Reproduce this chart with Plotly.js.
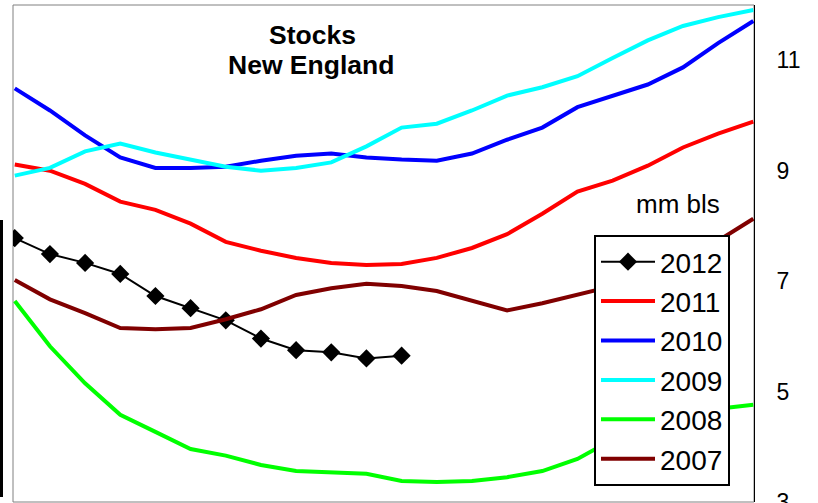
<!DOCTYPE html>
<html>
<head>
<meta charset="utf-8">
<script src="https://cdn.plot.ly/plotly-3.0.1.min.js"></script>
<style>
  html, body { margin: 0; padding: 0; background: #ffffff; }
  #chart { width: 818px; height: 503px; }
</style>
</head>
<body>
<div id="chart"></div>
<script>
// Periods (x positions, no labels shown on the axis)
const periods = [1,2,3,4,5,6,7,8,9,10,11,12,13,14,15,16,17,18,19,20,21,22];

// Series values (mm bls)
const s2012 = [7.78, 7.49, 7.33, 7.13, 6.73, 6.51, 6.29, 5.96, 5.75, 5.71, 5.60, 5.65];
const s2011 = [9.11, 9.00, 8.76, 8.44, 8.29, 8.04, 7.71, 7.55, 7.42, 7.33, 7.29, 7.31, 7.42, 7.60, 7.85, 8.22, 8.62, 8.82, 9.09, 9.42, 9.67, 9.89];
const s2010 = [10.49, 10.09, 9.64, 9.24, 9.05, 9.05, 9.07, 9.18, 9.27, 9.31, 9.24, 9.20, 9.18, 9.31, 9.56, 9.78, 10.15, 10.36, 10.56, 10.87, 11.31, 11.71];
const s2009 = [8.91, 9.05, 9.35, 9.49, 9.33, 9.20, 9.07, 9.00, 9.05, 9.15, 9.44, 9.78, 9.85, 10.09, 10.36, 10.51, 10.71, 11.04, 11.36, 11.62, 11.78, 11.91];
const s2008 = [6.64, 5.82, 5.15, 4.58, 4.27, 3.96, 3.84, 3.67, 3.56, 3.53, 3.51, 3.38, 3.36, 3.38, 3.45, 3.56, 3.78, 4.13, 4.42, 4.60, 4.69, 4.76];
const s2007 = [7.02, 6.67, 6.42, 6.15, 6.13, 6.15, 6.31, 6.49, 6.75, 6.87, 6.95, 6.91, 6.82, 6.64, 6.47, 6.60, 6.75, 6.91, 7.15, 7.40, 7.73, 8.13];

const yTicks = [3, 5, 7, 9, 11];
const yTickLabels = ['3', '5', '7', '9', '11'];

const FONT = 'Arial, "Liberation Sans", sans-serif';

// plot area in pixels: x 13..754, y 5..502
const PL = 13, PR = 754, PT = 5, PB = 502;
const px2x = p => (p - PL) / (PR - PL);
const px2y = p => (PB - p) / (PB - PT);

function line(name, ys, color) {
  return {
    type: 'scatter', mode: 'lines', name: name,
    x: periods.slice(0, ys.length), y: ys,
    line: { color: color, width: 4 },
    hoverinfo: 'skip'
  };
}

const traces = [
  {
    type: 'scatter', mode: 'lines+markers', name: '2012',
    x: periods.slice(0, s2012.length), y: s2012,
    line: { color: '#000000', width: 2 },
    marker: { symbol: 'diamond', size: 14, color: '#000000' },
    hoverinfo: 'skip'
  },
  line('2011', s2011, '#FF0000'),
  line('2010', s2010, '#0000FF'),
  line('2009', s2009, '#00FFFF'),
  line('2008', s2008, '#00FF00'),
  line('2007', s2007, '#800000')
];

const layout = {
  width: 818, height: 503,
  margin: { l: PL, r: 818 - PR, t: PT, b: 503 - PB, pad: 0, autoexpand: false },
  paper_bgcolor: '#ffffff', plot_bgcolor: '#ffffff',
  font: { family: FONT, color: '#000000' },
  showlegend: true,
  xaxis: {
    range: [0.95, 22.02], automargin: false,
    showgrid: false, zeroline: false, showticklabels: false, ticks: '',
    showline: false, fixedrange: true
  },
  yaxis: {
    side: 'right', automargin: false,
    range: [3, 12],
    tickvals: yTicks, ticktext: yTickLabels,
    tickfont: { family: FONT, size: 23, color: '#000000' },
    ticks: '', ticklabelstandoff: 17, ticklabeloverflow: 'allow',
    showgrid: false, zeroline: false,
    showline: true, linecolor: '#000000', linewidth: 1,
    fixedrange: true
  },
  legend: {
    x: px2x(594), y: px2y(235),
    xanchor: 'left', yanchor: 'top',
    bgcolor: '#ffffff', bordercolor: '#000000', borderwidth: 2,
    font: { family: FONT, size: 28, color: '#000000' },
    traceorder: 'normal',
    itemwidth: 54
  },
  shapes: [
    { type: 'rect', xref: 'paper', yref: 'paper', x0: 0, x1: 1, y0: 0, y1: 1,
      line: { color: '#808080', width: 1 }, layer: 'below' },
    { type: 'rect', xref: 'paper', yref: 'paper',
      x0: px2x(0), x1: px2x(3),
      y0: px2y(497), y1: px2y(220),
      fillcolor: '#000000', line: { width: 0 } }
  ],
  annotations: [
    { text: '<b>Stocks</b>', xref: 'paper', yref: 'paper',
      x: px2x(312), y: px2y(35), xanchor: 'center', yanchor: 'middle', showarrow: false,
      font: { family: FONT, size: 26.5, color: '#000000' } },
    { text: '<b>New England</b>', xref: 'paper', yref: 'paper',
      x: px2x(311), y: px2y(65), xanchor: 'center', yanchor: 'middle', showarrow: false,
      font: { family: FONT, size: 26.5, color: '#000000' } },
    { text: 'mm bls', xref: 'paper', yref: 'paper',
      x: px2x(678), y: px2y(204), xanchor: 'center', yanchor: 'middle', showarrow: false,
      font: { family: FONT, size: 26, color: '#000000' } }
  ]
};

Plotly.newPlot('chart', traces, layout, { displayModeBar: false, staticPlot: true });
</script>
</body>
</html>
